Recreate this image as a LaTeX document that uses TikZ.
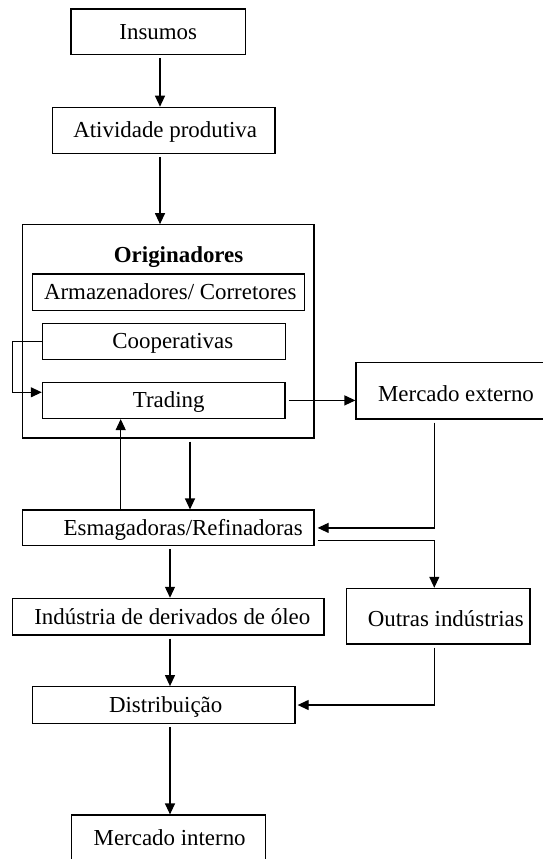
\documentclass[tikz,border=0pt]{standalone}
\usepackage{fontspec}
\setmainfont{Liberation Serif}
\usetikzlibrary{arrows.meta}

\begin{document}
\begin{tikzpicture}[x=1pt,y=-1pt,
    box/.style={draw,line width=1.2pt,inner sep=0pt,text height=20pt,text depth=5pt,font=\fontsize{22.9}{27}\selectfont},
    tallbox/.style={box,text height=26pt},
    nudge/.style={execute at begin node={\hspace*{#1}}},
    flow/.style={-{Triangle[length=11pt,width=10pt]},line width=1.2pt,shorten <=3pt}]
  \useasboundingbox (0,0) rectangle (542,859);

  \node (insumos) [box,minimum width=174.7pt,minimum height=45.3pt] at (158.3,31.7) {Insumos};
  \node (ativ) [box,minimum width=222.7pt,minimum height=46pt,nudge=3pt] at (163.7,130.3) {Atividade produtiva};
  \node (orig) [box,minimum width=291.7pt,minimum height=213.3pt] at (168.2,331.4) {};
  \node (origtitle) [font=\fontsize{22.9}{27}\selectfont\bfseries] at (178.6,257) {Originadores};
  \node (armaz) [box,minimum width=271.9pt,minimum height=36.7pt,nudge=4pt] at (168.3,292.3) {Armazenadores/ Corretores};
  \node (coop) [box,minimum width=242.9pt,minimum height=36pt,nudge=18pt] at (163.8,341.3) {Cooperativas};
  \node (trading) [box,minimum width=242.7pt,minimum height=36.2pt,nudge=10pt] at (163.7,400.4) {Trading};
  \node (mext) [tallbox,minimum width=200pt,minimum height=56.3pt] at (456,390.8) {Mercado externo};
  \node (esmag) [box,minimum width=291.7pt,minimum height=35.7pt,nudge=30pt] at (168.2,527.9) {Esmagadoras/Refinadoras};
  \node (ind) [box,minimum width=311.3pt,minimum height=36.7pt,nudge=8pt] at (168.3,616.7) {Indústria de derivados de óleo};
  \node (outras) [tallbox,minimum width=183.3pt,minimum height=55.7pt,nudge=15pt] at (438.3,616.2) {Outras indústrias};
  \node (distr) [box,minimum width=262.7pt,minimum height=36.6pt,nudge=4pt] at (163.7,705) {Distribuição};
  \node (mint) [box,minimum width=194pt,minimum height=46pt,nudge=2pt] at (168.7,838) {Mercado interno};

  \coordinate (colA) at (160,0);
  \coordinate (colB) at (120.7,0);
  \coordinate (colC) at (190,0);
  \coordinate (colD) at (170,0);
  \coordinate (colE) at (434.3,0);
  \coordinate (loop) at (12.7,392.3);

  \draw[flow] (insumos.south -| colA) -- (ativ.north -| colA);
  \draw[flow] (ativ.south -| colA) -- (orig.north -| colA);
  \draw[flow,shorten <=0pt] (coop.west) -| (loop) -- (loop -| trading.west);
  \draw[flow] (trading.east) -- (trading.east -| mext.west);
  \draw[flow,shorten <=0pt] (esmag.north -| colB) -- (trading.south -| colB);
  \draw[flow] (orig.south -| colC) -- (esmag.north -| colC);
  \draw[flow,shorten >=3pt] (mext.south -| colE) |- (esmag.east);
  \draw[flow] ([yshift=6pt]esmag.south east) -| (outras.north -| colE);
  \draw[flow] (esmag.south -| colD) -- (ind.north -| colD);
  \draw[flow] (ind.south -| colD) -- (distr.north -| colD);
  \draw[flow,shorten >=2pt] (outras.south -| colE) |- (distr.east);
  \draw[flow] (distr.south -| colD) -- (mint.north -| colD);
\end{tikzpicture}
\end{document}
